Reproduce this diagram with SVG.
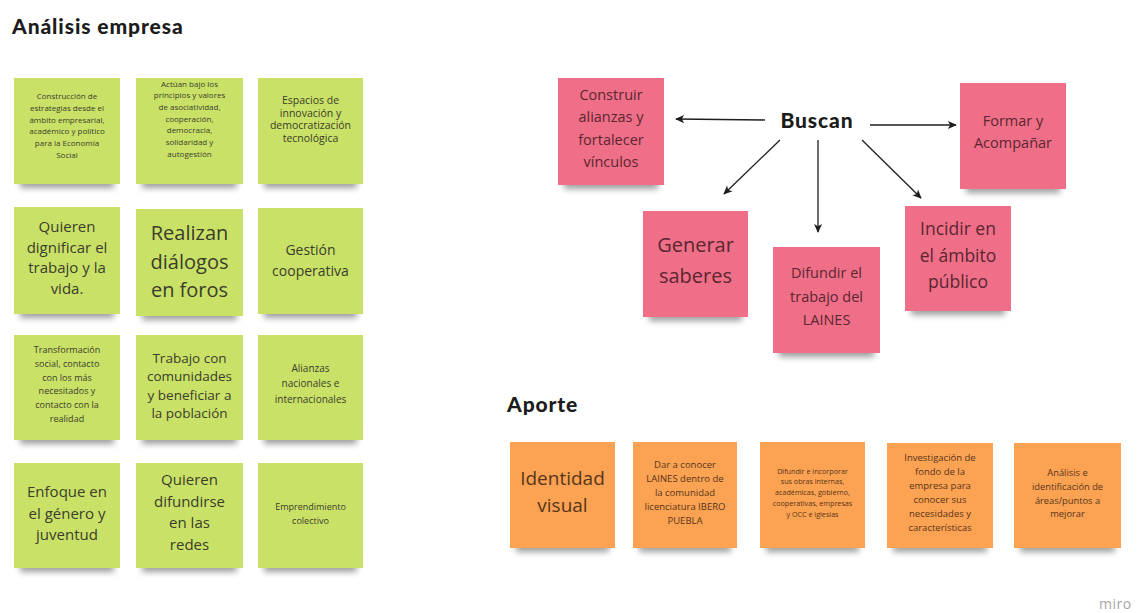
<svg xmlns="http://www.w3.org/2000/svg" width="1137" height="613" viewBox="0 0 1137 613">
<defs>
<style>
.bg{fill:#ffffff}
.sh{fill:#000;opacity:.38;filter:url(#blur)}
.g{fill:#c9e167}
.p{fill:#ef6f88}
.o{fill:#fca353}
.t{font-family:"Open Sans","Noto Sans","Liberation Sans",sans-serif;text-anchor:middle}
.tg{fill:#3b3d2c}
.tp{fill:#5a2630}
.to{fill:#57341a}
.h{font-family:Lato,"Open Sans","Liberation Sans",sans-serif;font-weight:900;fill:#1c1c1c;letter-spacing:0.9px}
.c{stroke:#1e1e1e;stroke-width:1.3;fill:none;marker-end:url(#ah)}
</style>
<filter id="blur" x="-20%" y="-50%" width="140%" height="200%"><feGaussianBlur stdDeviation="3"/></filter>
<marker id="ah" viewBox="0 0 10 10" refX="9" refY="5" markerWidth="10" markerHeight="9" markerUnits="userSpaceOnUse" orient="auto"><path d="M0,0.5 L10,5 L0,9.5 L2.5,5 z" fill="#1e1e1e"/></marker>
</defs>
<rect class="bg" x="0" y="0" width="1137" height="613"/>

<text class="h" x="12" y="34" font-size="21">Análisis empresa</text>
<text class="h" x="507" y="412" font-size="21">Aporte</text>

<!-- green notes -->
<g id="g1"><rect class="sh" x="20" y="166" width="94" height="22"/><rect class="g" x="14" y="78" width="106" height="106"/>
<text class="t tg" x="67" y="99" font-size="8"><tspan x="67">Construcción de</tspan><tspan x="67" dy="11.8">estrategias desde el</tspan><tspan x="67" dy="11.8">ámbito empresarial,</tspan><tspan x="67" dy="11.8">académico y político</tspan><tspan x="67" dy="11.8">para la Economía</tspan><tspan x="67" dy="11.8">Social</tspan></text></g>
<g id="g2"><rect class="sh" x="142" y="166" width="95" height="22"/><rect class="g" x="136" y="78" width="107" height="106"/>
<text class="t tg" x="189.5" y="86.5" font-size="8"><tspan x="189.5">Actúan bajo los</tspan><tspan x="189.5" dy="11.7">principios y valores</tspan><tspan x="189.5" dy="11.7">de asociatividad,</tspan><tspan x="189.5" dy="11.7">cooperación,</tspan><tspan x="189.5" dy="11.7">democracia,</tspan><tspan x="189.5" dy="11.7">solidaridad y</tspan><tspan x="189.5" dy="11.7">autogestión</tspan></text></g>
<g id="g3"><rect class="sh" x="264" y="166" width="93" height="22"/><rect class="g" x="258" y="78" width="105" height="106"/>
<text class="t tg" x="310.5" y="104" font-size="10.5"><tspan x="310.5">Espacios de</tspan><tspan x="310.5" dy="12.7">innovación y</tspan><tspan x="310.5" dy="12.7">democratización</tspan><tspan x="310.5" dy="12.7">tecnológica</tspan></text></g>

<g id="g4"><rect class="sh" x="20" y="296" width="94" height="22"/><rect class="g" x="14" y="207" width="106" height="107"/>
<text class="t tg" x="67" y="232" font-size="15"><tspan x="67">Quieren</tspan><tspan x="67" dy="20.7">dignificar el</tspan><tspan x="67" dy="20.7">trabajo y la</tspan><tspan x="67" dy="20.7">vida.</tspan></text></g>
<g id="g5"><rect class="sh" x="142" y="298" width="95" height="22"/><rect class="g" x="136" y="209" width="107" height="107"/>
<text class="t tg" x="189.5" y="240" font-size="20"><tspan x="189.5">Realizan</tspan><tspan x="189.5" dy="28.5">diálogos</tspan><tspan x="189.5" dy="28.5">en foros</tspan></text></g>
<g id="g6"><rect class="sh" x="264" y="296" width="93" height="22"/><rect class="g" x="258" y="208" width="105" height="106"/>
<text class="t tg" x="310.5" y="255" font-size="14"><tspan x="310.5">Gestión</tspan><tspan x="310.5" dy="21">cooperativa</tspan></text></g>

<g id="g7"><rect class="sh" x="20" y="422" width="94" height="22"/><rect class="g" x="14" y="335" width="106" height="105"/>
<text class="t tg" x="67" y="353" font-size="9"><tspan x="67">Transformación</tspan><tspan x="67" dy="13.8">social, contacto</tspan><tspan x="67" dy="13.8">con los más</tspan><tspan x="67" dy="13.8">necesitados y</tspan><tspan x="67" dy="13.8">contacto con la</tspan><tspan x="67" dy="13.8">realidad</tspan></text></g>
<g id="g8"><rect class="sh" x="142" y="422" width="95" height="22"/><rect class="g" x="136" y="335" width="107" height="105"/>
<text class="t tg" x="189.5" y="363" font-size="13.5"><tspan x="189.5">Trabajo con</tspan><tspan x="189.5" dy="18.3">comunidades</tspan><tspan x="189.5" dy="18.3">y beneficiar a</tspan><tspan x="189.5" dy="18.3">la población</tspan></text></g>
<g id="g9"><rect class="sh" x="264" y="422" width="93" height="22"/><rect class="g" x="258" y="335" width="105" height="105"/>
<text class="t tg" x="310.5" y="371.5" font-size="10"><tspan x="310.5">Alianzas</tspan><tspan x="310.5" dy="15.8">nacionales e</tspan><tspan x="310.5" dy="15.8">internacionales</tspan></text></g>

<g id="g10"><rect class="sh" x="20" y="550" width="94" height="22"/><rect class="g" x="14" y="463" width="106" height="105"/>
<text class="t tg" x="67" y="497" font-size="15"><tspan x="67">Enfoque en</tspan><tspan x="67" dy="21.5">el género y</tspan><tspan x="67" dy="21.5">juventud</tspan></text></g>
<g id="g11"><rect class="sh" x="142" y="550" width="95" height="22"/><rect class="g" x="136" y="463" width="107" height="105"/>
<text class="t tg" x="189.5" y="485" font-size="15"><tspan x="189.5">Quieren</tspan><tspan x="189.5" dy="21.7">difundirse</tspan><tspan x="189.5" dy="21.7">en las</tspan><tspan x="189.5" dy="21.7">redes</tspan></text></g>
<g id="g12"><rect class="sh" x="264" y="550" width="93" height="22"/><rect class="g" x="258" y="463" width="105" height="105"/>
<text class="t tg" x="310.5" y="510" font-size="9"><tspan x="310.5">Emprendimiento</tspan><tspan x="310.5" dy="13.5">colectivo</tspan></text></g>

<!-- pink notes -->
<g id="buscan"><text class="h" x="817" y="128" font-size="21" text-anchor="middle">Buscan</text></g>
<g id="p1"><rect class="sh" x="564" y="167" width="94" height="22"/><rect class="p" x="558" y="78" width="106" height="107"/>
<text class="t tp" x="611" y="100" font-size="14.5"><tspan x="611">Construir</tspan><tspan x="611" dy="22.3">alianzas y</tspan><tspan x="611" dy="22.3">fortalecer</tspan><tspan x="611" dy="22.3">vínculos</tspan></text></g>
<g id="p2"><rect class="sh" x="966" y="171" width="94" height="22"/><rect class="p" x="960" y="83" width="106" height="106"/>
<text class="t tp" x="1013" y="126" font-size="14.5"><tspan x="1013">Formar y</tspan><tspan x="1013" dy="22">Acompañar</tspan></text></g>
<g id="p3"><rect class="sh" x="649" y="299" width="93" height="22"/><rect class="p" x="643" y="211" width="105" height="106"/>
<text class="t tp" x="695.5" y="252" font-size="20"><tspan x="695.5">Generar</tspan><tspan x="695.5" dy="31">saberes</tspan></text></g>
<g id="p4"><rect class="sh" x="779" y="335" width="95" height="22"/><rect class="p" x="773" y="247" width="107" height="106"/>
<text class="t tp" x="826.5" y="278" font-size="14.5"><tspan x="826.5">Difundir el</tspan><tspan x="826.5" dy="23.5">trabajo del</tspan><tspan x="826.5" dy="23.5">LAINES</tspan></text></g>
<g id="p5"><rect class="sh" x="911" y="293" width="94" height="22"/><rect class="p" x="905" y="206" width="106" height="105"/>
<text class="t tp" x="958" y="235" font-size="17.5"><tspan x="958">Incidir en</tspan><tspan x="958" dy="26.5">el ámbito</tspan><tspan x="958" dy="26.5">público</tspan></text></g>

<!-- orange notes -->
<g id="o1"><rect class="sh" x="516" y="530" width="93" height="22"/><rect class="o" x="510" y="442" width="105" height="106"/>
<text class="t to" x="562.5" y="485" font-size="19"><tspan x="562.5">Identidad</tspan><tspan x="562.5" dy="27">visual</tspan></text></g>
<g id="o2"><rect class="sh" x="639" y="530" width="92" height="22"/><rect class="o" x="633" y="442" width="104" height="106"/>
<text class="t to" x="685" y="468.3" font-size="9.5"><tspan x="685">Dar a conocer</tspan><tspan x="685" dy="14">LAINES dentro de</tspan><tspan x="685" dy="14">la comunidad</tspan><tspan x="685" dy="14">licenciatura IBERO</tspan><tspan x="685" dy="14">PUEBLA</tspan></text></g>
<g id="o3"><rect class="sh" x="766" y="530" width="93" height="22"/><rect class="o" x="760" y="442" width="105" height="106"/>
<text class="t to" x="812.5" y="473.5" font-size="7.2"><tspan x="812.5">Difundir e incorporar</tspan><tspan x="812.5" dy="10.8">sus obras internas,</tspan><tspan x="812.5" dy="10.8">académicas, gobierno,</tspan><tspan x="812.5" dy="10.8">cooperativas, empresas</tspan><tspan x="812.5" dy="10.8">y OCC e iglesias</tspan></text></g>
<g id="o4"><rect class="sh" x="893" y="530" width="94" height="22"/><rect class="o" x="887" y="443" width="106" height="105"/>
<text class="t to" x="940" y="461.3" font-size="9.5"><tspan x="940">Investigación de</tspan><tspan x="940" dy="14">fondo de la</tspan><tspan x="940" dy="14">empresa para</tspan><tspan x="940" dy="14">conocer sus</tspan><tspan x="940" dy="14">necesidades y</tspan><tspan x="940" dy="14">características</tspan></text></g>
<g id="o5"><rect class="sh" x="1020" y="530" width="95" height="22"/><rect class="o" x="1014" y="443" width="107" height="105"/>
<text class="t to" x="1067.5" y="476.3" font-size="9.3"><tspan x="1067.5">Análisis e</tspan><tspan x="1067.5" dy="13.7">identificación de</tspan><tspan x="1067.5" dy="13.7">áreas/puntos a</tspan><tspan x="1067.5" dy="13.7">mejorar</tspan></text></g>

<!-- connectors -->
<g id="connectors">
<line class="c" x1="765" y1="120" x2="676" y2="119"/>
<line class="c" x1="870" y1="125" x2="956" y2="125"/>
<line class="c" x1="780" y1="140" x2="724" y2="194"/>
<line class="c" x1="818" y1="140" x2="818" y2="232"/>
<line class="c" x1="862" y1="140" x2="921" y2="198"/>
</g>

<text x="1099" y="609" font-family="'Open Sans','Liberation Sans',sans-serif" font-size="14" fill="#a6a6a6" letter-spacing="0.5">miro</text>
</svg>
